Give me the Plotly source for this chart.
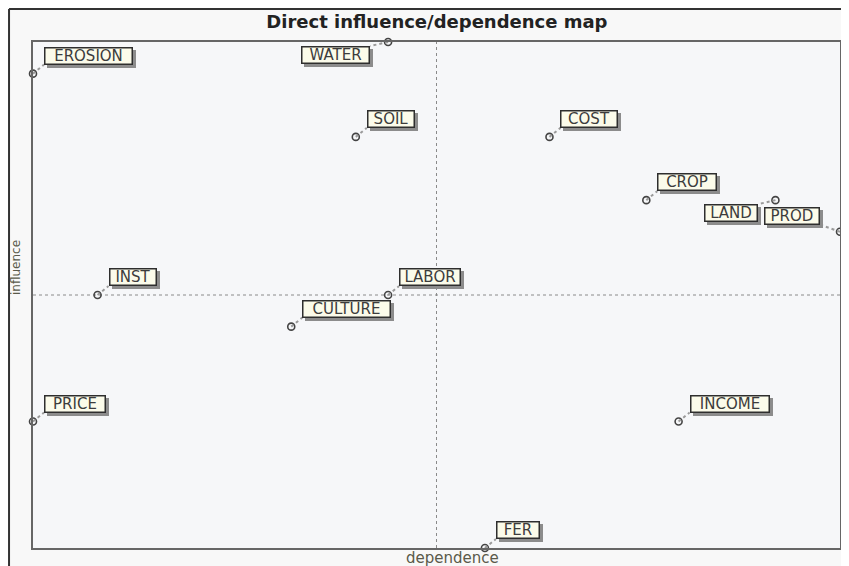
import plotly.graph_objects as go

# ---- data (direct influence / dependence) ----
variables = ["EROSION", "WATER", "SOIL", "COST", "CROP", "LAND", "PROD",
             "INST", "LABOR", "CULTURE", "PRICE", "INCOME", "FER"]
dependence = [0, 11, 10, 16, 19, 23, 25, 2, 11, 8, 0, 20, 14]
influence = [15, 16, 13, 13, 11, 11, 10, 8, 8, 7, 4, 4, 0]
dep_range = [0, 25]
inf_range = [0, 16]
dep_mid = 12.5
inf_mid = 8

# ---- label styling / placement (pixels relative to point) ----
label_width = {"EROSION": 86, "WATER": 66, "SOIL": 45, "COST": 55, "CROP": 57, "LAND": 51,
               "PROD": 53, "INST": 45, "LABOR": 59, "CULTURE": 86, "PRICE": 59,
               "INCOME": 77, "FER": 41}
default_place = dict(xanchor="left", yanchor="bottom", dx=11, dy=9, cx=11, cy=9)
special_place = {
    "WATER": dict(xanchor="right", yanchor="top", dx=-18, dy=-4, cx=-18, cy=-4),
    "LAND": dict(xanchor="right", yanchor="top", dx=-17, dy=-4, cx=-17, cy=-4),
    "PROD": dict(xanchor="right", yanchor="bottom", dx=-20, dy=7, cx=-20, cy=7),
}

FONT = "DejaVu Sans"
fig = go.Figure()

fig.add_trace(go.Scatter(
    x=dependence, y=influence, mode="markers",
    marker=dict(symbol="circle-open", size=7, color="#444444", line=dict(width=1.6)),
    cliponaxis=False, hoverinfo="text", text=variables, showlegend=False,
))

shapes = []
annotations = []

# mean lines
shapes.append(dict(type="line", xref="x", yref="paper", x0=dep_mid, x1=dep_mid, y0=0, y1=1,
                   line=dict(color="#8a8a8a", width=1, dash="3px,3px"), layer="below"))
shapes.append(dict(type="line", xref="paper", yref="y", x0=0, x1=1, y0=inf_mid, y1=inf_mid,
                   line=dict(color="#8a8a8a", width=1, dash="3px,3px"), layer="below"))

for name, xv, yv in zip(variables, dependence, influence):
    p = special_place.get(name, default_place)
    w = label_width[name]
    # connector
    shapes.append(dict(type="line", xref="x", yref="y", xsizemode="pixel", ysizemode="pixel",
                       xanchor=xv, yanchor=yv, x0=0, y0=0, x1=p["cx"], y1=p["cy"],
                       line=dict(color="#9a9a9a", width=2, dash="dot")))
    # shadow
    annotations.append(dict(x=xv, y=yv, xref="x", yref="y", text=name, showarrow=False,
                            xanchor=p["xanchor"], yanchor=p["yanchor"],
                            xshift=p["dx"] + 3, yshift=p["dy"] - 3, width=w, height=15,
                            font=dict(family=FONT, size=15, color="#8c8c8c"),
                            bgcolor="#8c8c8c", bordercolor="#8c8c8c", borderwidth=1.5, borderpad=0))
    # label
    annotations.append(dict(x=xv, y=yv, xref="x", yref="y", text=name, showarrow=False,
                            xanchor=p["xanchor"], yanchor=p["yanchor"],
                            xshift=p["dx"], yshift=p["dy"], width=w, height=15,
                            font=dict(family=FONT, size=15, color="#3c3c3c"),
                            bgcolor="#fbfbea", bordercolor="#2e2e2e", borderwidth=1.5, borderpad=0))

# axis titles
annotations.append(dict(x=0.5, y=0, xref="paper", yref="paper", text="dependence",
                        showarrow=False, xanchor="center", yanchor="top", xshift=16, yshift=1,
                        font=dict(family=FONT, size=15, color="#5a5a4a")))
annotations.append(dict(x=0, y=0.5, xref="paper", yref="paper", text="influence",
                        showarrow=False, xanchor="right", yanchor="middle", textangle=-90,
                        xshift=-8, yshift=27,
                        font=dict(family=FONT, size=12, color="#5a5a4a")))
# watermark
annotations.append(dict(x=1.0, y=0.12, xref="paper", yref="paper", text="© LIPSOR-EPITA-MICMAC",
                        showarrow=False, xanchor="left", yanchor="middle", textangle=90,
                        xshift=2, font=dict(family=FONT, size=8, color="#777777")))

# outer frame lines (figure's top and left edges)
shapes.append(dict(type="line", xref="paper", yref="paper", x0=-0.0297, x1=-0.0297, y0=-0.05, y1=1.0652,
                   line=dict(color="#333333", width=2)))
shapes.append(dict(type="line", xref="paper", yref="paper", x0=-0.0297, x1=1.05, y0=1.0652, y1=1.0652,
                   line=dict(color="#333333", width=2)))

fig.update_layout(
    width=841, height=558,
    margin=dict(l=25, r=7, t=34, b=18),
    paper_bgcolor="#f8f8f8", plot_bgcolor="#f6f7f9",
    title=dict(text="<b>Direct influence/dependence map</b>", x=0.510, xanchor="center",
               y=0.975, yanchor="middle", font=dict(family=FONT, size=18, color="#222222")),
    xaxis=dict(range=dep_range, showgrid=False, zeroline=False, showticklabels=False, ticks="",
               showline=True, mirror=True, linecolor="#666666", linewidth=2, fixedrange=True),
    yaxis=dict(range=inf_range, showgrid=False, zeroline=False, showticklabels=False, ticks="",
               showline=True, mirror=True, linecolor="#666666", linewidth=2, fixedrange=True),
    shapes=shapes, annotations=annotations, showlegend=False,
)

fig.write_html("out.html")
